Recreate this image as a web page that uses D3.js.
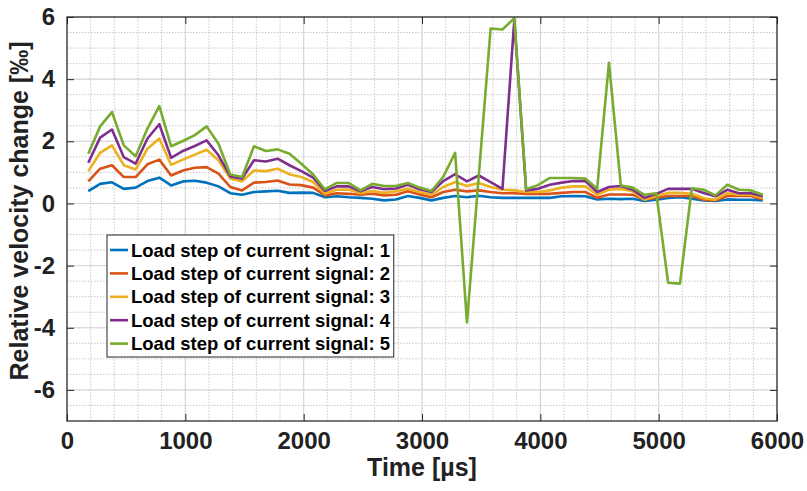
<!DOCTYPE html>
<html>
<head>
<meta charset="utf-8">
<script src="https://cdn.jsdelivr.net/npm/d3@7"></script>
<style>
  body { margin: 0; background: #fff; }
  text { font-family: "Liberation Sans", Arial, sans-serif; font-weight: bold; }
</style>
</head>
<body>
<div id="chart"></div>
<script>
var time = [180, 280, 380, 480, 580, 680, 780, 880, 980, 1080, 1180, 1280, 1380, 1480, 1580, 1680, 1780, 1880, 1980, 2080,
            2180, 2280, 2380, 2480, 2580, 2680, 2780, 2880, 2980, 3080, 3180, 3280, 3380, 3480, 3580, 3680, 3780, 3880, 3980, 4080,
            4180, 4280, 4380, 4480, 4580, 4680, 4780, 4880, 4980, 5080, 5180, 5280, 5380, 5480, 5580, 5680, 5780, 5880];

var step1 = [0.40, 0.63, 0.68, 0.47, 0.51, 0.72, 0.83, 0.58, 0.71, 0.73, 0.67, 0.55, 0.33, 0.28, 0.37, 0.39, 0.41, 0.34, 0.35, 0.34,
             0.20, 0.23, 0.20, 0.18, 0.15, 0.10, 0.13, 0.24, 0.18, 0.10, 0.18, 0.24, 0.20, 0.25, 0.20, 0.18, 0.18, 0.18, 0.18, 0.18,
             0.23, 0.24, 0.23, 0.13, 0.15, 0.14, 0.15, 0.08, 0.12, 0.18, 0.20, 0.15, 0.10, 0.08, 0.13, 0.12, 0.12, 0.10];
var step2 = [0.71, 1.12, 1.23, 0.85, 0.85, 1.26, 1.41, 0.90, 1.06, 1.15, 1.17, 0.96, 0.53, 0.42, 0.67, 0.69, 0.74, 0.61, 0.59, 0.51,
             0.26, 0.33, 0.31, 0.28, 0.31, 0.26, 0.28, 0.39, 0.29, 0.20, 0.37, 0.44, 0.39, 0.42, 0.37, 0.33, 0.33, 0.31, 0.31, 0.31,
             0.34, 0.37, 0.37, 0.18, 0.29, 0.29, 0.28, 0.13, 0.18, 0.24, 0.24, 0.24, 0.12, 0.10, 0.24, 0.24, 0.24, 0.13];
var step3 = [1.04, 1.63, 1.87, 1.23, 1.09, 1.76, 2.09, 1.24, 1.41, 1.57, 1.73, 1.39, 0.80, 0.71, 1.06, 1.04, 1.12, 0.94, 0.85, 0.69,
             0.31, 0.44, 0.45, 0.33, 0.40, 0.34, 0.39, 0.47, 0.37, 0.28, 0.53, 0.69, 0.56, 0.66, 0.53, 0.44, 0.42, 0.37, 0.37, 0.42,
             0.51, 0.55, 0.55, 0.28, 0.44, 0.47, 0.39, 0.12, 0.24, 0.34, 0.34, 0.31, 0.17, 0.12, 0.33, 0.28, 0.28, 0.18];
var step4 = [1.31, 2.12, 2.38, 1.49, 1.28, 2.09, 2.55, 1.47, 1.69, 1.85, 2.03, 1.55, 0.87, 0.80, 1.39, 1.35, 1.44, 1.23, 1.04, 0.83,
             0.40, 0.55, 0.55, 0.39, 0.53, 0.46, 0.48, 0.60, 0.46, 0.37, 0.72, 0.94, 0.71, 0.90, 0.69, 0.47, 5.90, 0.42, 0.47, 0.60,
             0.67, 0.72, 0.72, 0.37, 0.53, 0.56, 0.44, 0.18, 0.31, 0.47, 0.47, 0.47, 0.34, 0.23, 0.44, 0.33, 0.33, 0.23];
var step5 = [1.60, 2.48, 2.94, 1.87, 1.52, 2.41, 3.13, 1.84, 2.01, 2.20, 2.48, 1.92, 0.93, 0.85, 1.84, 1.69, 1.74, 1.60, 1.28, 0.93,
             0.45, 0.66, 0.66, 0.42, 0.63, 0.56, 0.56, 0.66, 0.51, 0.40, 0.86, 1.63, -3.83, 0.90, 5.63, 5.60, 5.96, 0.46, 0.59, 0.82,
             0.82, 0.82, 0.80, 0.47, 4.53, 0.58, 0.51, 0.28, 0.33, -2.55, -2.58, 0.49, 0.44, 0.26, 0.60, 0.44, 0.42, 0.28];

var seriesNames = ["Load step of current signal: 1", "Load step of current signal: 2", "Load step of current signal: 3",
                   "Load step of current signal: 4", "Load step of current signal: 5"];
var seriesColors = ["#0072BD", "#D95319", "#EDB120", "#7E2F8E", "#77AC30"];
var xTicks = [0, 1000, 2000, 3000, 4000, 5000, 6000];
var yTicks = [-6, -4, -2, 0, 2, 4, 6];

var width = 807, height = 491;
var margin = {top: 17, right: 30, bottom: 70, left: 67};

var svg = d3.select("#chart").append("svg")
    .attr("width", width)
    .attr("height", height);

var x = d3.scaleLinear().domain([0, 6000]).range([margin.left, width - margin.right]);
var y = d3.scaleLinear().domain([-7, 6]).range([height - margin.bottom, margin.top]);

// minor grid (dotted)
var g = svg.append("g");
g.selectAll(".vminor")
    .data(d3.range(0, 6001, 200))
    .enter().append("line")
    .attr("x1", function(d) { return x(d); }).attr("x2", function(d) { return x(d); })
    .attr("y1", y(-7)).attr("y2", y(6))
    .attr("stroke", d3.rgb(200, 200, 200)).attr("stroke-width", 1)
    .attr("stroke-dasharray", "1.5,1.5");
g.selectAll(".hminor")
    .data(d3.range(-7, 6.01, 0.5))
    .enter().append("line")
    .attr("y1", function(d) { return y(d); }).attr("y2", function(d) { return y(d); })
    .attr("x1", x(0)).attr("x2", x(6000))
    .attr("stroke", d3.rgb(200, 200, 200)).attr("stroke-width", 1)
    .attr("stroke-dasharray", "1.5,1.5");
// major grid
g.selectAll(".vmajor")
    .data(xTicks)
    .enter().append("line")
    .attr("x1", function(d) { return x(d); }).attr("x2", function(d) { return x(d); })
    .attr("y1", y(-7)).attr("y2", y(6))
    .attr("stroke", "#d6d6d6").attr("stroke-width", 1);
g.selectAll(".hmajor")
    .data(yTicks)
    .enter().append("line")
    .attr("y1", function(d) { return y(d); }).attr("y2", function(d) { return y(d); })
    .attr("x1", x(0)).attr("x2", x(6000))
    .attr("stroke", "#d6d6d6").attr("stroke-width", 1);

// lines
var line = d3.line()
    .x(function(d) { return x(d[0]); })
    .y(function(d) { return y(d[1]); });

[step1, step2, step3, step4, step5].forEach(function(s, i) {
    svg.append("path")
        .datum(time.map(function(t, j) { return [t, s[j]]; }))
        .attr("fill", "none")
        .attr("stroke", seriesColors[i])
        .attr("stroke-width", 2.6)
        .attr("stroke-linejoin", "round")
        .attr("d", line);
});

// axes (ticks inward on all sides)
var axisColor = "#262626";
var plain = function(d) { return String(d); };  // hyphen minus, no thousands comma
function styleAxis(sel) {
    sel.select(".domain").remove();
    sel.selectAll(".tick line").attr("stroke", axisColor).attr("stroke-width", 1);
    sel.selectAll("text").attr("fill", "#222").style("font-size", "24px");
}
svg.append("g")
    .attr("transform", "translate(0," + y(-7) + ")")
    .call(d3.axisBottom(x).tickValues(xTicks).tickSize(-7).tickPadding(11).tickFormat(plain))
    .call(styleAxis);
svg.append("g")
    .attr("transform", "translate(0," + y(6) + ")")
    .call(d3.axisTop(x).tickValues(xTicks).tickSize(-7).tickFormat(""))
    .call(styleAxis);
svg.append("g")
    .attr("transform", "translate(" + x(0) + ",0)")
    .call(d3.axisLeft(y).tickValues(yTicks).tickSize(-7).tickPadding(12).tickFormat(plain))
    .call(styleAxis);
svg.append("g")
    .attr("transform", "translate(" + x(6000) + ",0)")
    .call(d3.axisRight(y).tickValues(yTicks).tickSize(-7).tickFormat(""))
    .call(styleAxis);

svg.append("rect")
    .attr("x", x(0)).attr("y", y(6))
    .attr("width", x(6000) - x(0)).attr("height", y(-7) - y(6))
    .attr("fill", "none").attr("stroke", axisColor).attr("stroke-width", 1.2);

// axis titles
svg.append("text")
    .attr("x", (x(0) + x(6000)) / 2)
    .attr("y", 476)
    .attr("text-anchor", "middle")
    .attr("fill", "#222")
    .style("font-size", "25px")
    .text("Time [µs]");
svg.append("text")
    .attr("transform", "translate(28," + ((y(6) + y(-7)) / 2 - 8) + ") rotate(-90)")
    .attr("text-anchor", "middle")
    .attr("fill", "#222")
    .style("font-size", "25px")
    .text("Relative velocity change [‰]");

// legend
var lg = svg.append("g").attr("transform", "translate(107,235)");
var lgBox = lg.append("rect")
    .attr("fill", "#fff").attr("stroke", axisColor).attr("stroke-width", 1);
var rowH = 23.4;
seriesNames.forEach(function(name, i) {
    var cy = 15 + i * rowH;
    lg.append("line")
        .attr("x1", 3).attr("x2", 21).attr("y1", cy).attr("y2", cy)
        .attr("stroke", seriesColors[i]).attr("stroke-width", 2.6);
    lg.append("text")
        .attr("x", 24).attr("y", cy + 6.5)
        .attr("fill", "#000")
        .style("font-size", "18.5px")
        .text(name);
});
var bb = lg.node().getBBox();
lgBox.attr("x", 0).attr("y", 0).attr("width", bb.width + 6).attr("height", 122);
</script>
</body>
</html>
